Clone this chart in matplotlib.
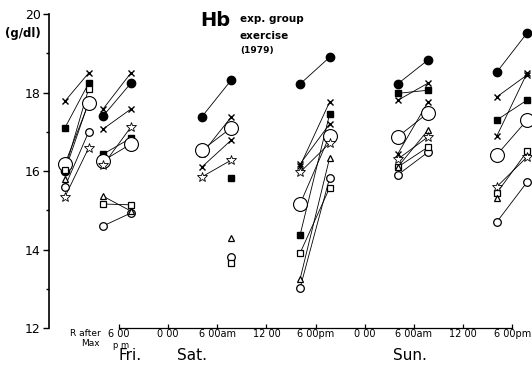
import numpy as np
import matplotlib
matplotlib.use('Agg')
import matplotlib.pyplot as plt

nan = np.nan

# hours after Fri 6 pm for each session (before, after)
t_r = (-6.6, -3.7)
t_fri = (-1.95, 1.45)
t_sat_am = (10.1, 13.7)
t_sat_pm = (22.1, 25.7)
t_sun_am = (34.0, 37.7)
t_sun_pm = (46.1, 49.8)

# subjects: filled circle, cross 1, cross 2, filled square, big open circle,
# small open circle, open square, triangle, star
subjects = ['fc', 'x1', 'x2', 'fs', 'Oc', 'oc', 'os', 'tri', 'star']

r_before = [16.0, 17.78, nan, 17.1, 16.18, 15.6, 16.03, 15.8, 15.34]
r_after = [17.76, 18.5, nan, 18.24, 17.73, 17.0, 18.1, nan, 16.59]

fri_before = [17.4, 17.58, 17.07, 16.43, 16.26, 14.6, 15.16, 15.36, 16.15]
fri_after = [18.24, 18.5, 17.58, 16.84, 16.69, 14.93, 15.14, 14.98, 17.12]

sat_am_before = [17.38, 16.43, 16.1, nan, 16.53, nan, nan, nan, 15.85]
sat_am_after = [18.32, 17.38, 16.79, 15.82, 17.1, 13.81, 13.66, 14.29, 16.28]

sat_pm_before = [18.22, 16.13, 16.18, 14.37, 15.16, 13.02, 13.91, 13.25, 15.97]
sat_pm_after = [18.9, 17.76, 17.2, 17.45, 16.9, 15.82, 15.57, 16.33, 16.71]

sun_am_before = [18.22, 17.8, 16.43, 17.98, 16.87, 15.9, 16.1, 16.1, 16.3]
sun_am_after = [18.83, 18.24, 17.76, 18.06, 17.48, 16.48, 16.61, 17.04, 16.87]

sun_pm_before = [18.52, 17.89, 16.89, 17.3, 16.41, 14.7, 15.44, 15.31, 15.6]
sun_pm_after = [19.52, 18.45, 18.5, 17.81, 17.3, 15.72, 16.5, nan, 16.36]

tick_pos = [0, 6, 12, 18, 24, 30, 36, 42, 48]
tick_labels = ['6 00', '0 00', '6 00am', '12 00', '6 00pm',
               '0 00', '6 00am', '12 00', '6 00pm']

styles = {
    'fc': dict(marker='o', ms=6, mfc='black'),
    'x1': dict(marker='x', ms=4.5, mew=1.0),
    'x2': dict(marker='x', ms=4.5, mew=1.0),
    'fs': dict(marker='s', ms=4.5, mfc='black'),
    'Oc': dict(marker='o', ms=10, mfc='white', mew=0.8),
    'oc': dict(marker='o', ms=5.5, mfc='white', mew=0.9),
    'os': dict(marker='s', ms=5, mfc='white', mew=0.9),
    'tri': dict(marker='^', ms=5, mfc='white', mew=0.9),
    'star': dict(marker='*', ms=7, mfc='white', mew=0.6),
}

sessions = [(t_r, r_before, r_after), (t_fri, fri_before, fri_after),
            (t_sat_am, sat_am_before, sat_am_after),
            (t_sat_pm, sat_pm_before, sat_pm_after),
            (t_sun_am, sun_am_before, sun_am_after),
            (t_sun_pm, sun_pm_before, sun_pm_after)]

W, H = 532, 372
fig = plt.figure(figsize=(W / 100, H / 100), dpi=100)
ax = fig.add_axes([49 / W, 44 / H, 1 - 49 / W, 1 - 44 / H])

for t, before, after in sessions:
    for i, s in enumerate(subjects):
        b, a = before[i], after[i]
        if not np.isnan(b) and not np.isnan(a):
            ax.plot(t, [b, a], color='black', lw=0.6, zorder=1)
    for i, s in enumerate(subjects):
        for tt, v in zip(t, (before[i], after[i])):
            if not np.isnan(v):
                ax.plot(tt, v, ls='none', color='black', mec='black',
                        zorder=3, clip_on=False, **styles[s])

ax.set_xlim(-8.54, 50.4)
ax.set_ylim(12, 20.36)

for sp in ['top', 'right']:
    ax.spines[sp].set_visible(False)
ax.spines['left'].set_bounds(12, 20)
ax.spines['bottom'].set_bounds(0, 48)
ax.spines['left'].set_linewidth(1.2)
ax.spines['bottom'].set_linewidth(0.9)

ax.set_yticks([12, 14, 16, 18, 20])
ax.set_yticks([13, 15, 17, 19], minor=True)
ax.tick_params(axis='y', which='major', direction='out', length=4, width=1,
               labelsize=9, pad=2)
ax.tick_params(axis='y', which='minor', direction='out', length=2.5, width=1)

ax.set_xticks(tick_pos)
ax.set_xticklabels(tick_labels, fontsize=7)
ax.tick_params(axis='x', direction='in', length=3, width=0.9, pad=1)

lab = dict(transform=fig.transFigure, color='black')
fig.text(5 / W, 1 - 34 / H, '(g/dl)', fontsize=8.5, fontweight='bold',
         va='center', ha='left', **lab)
fig.text(200 / W, 1 - 21 / H, 'Hb', fontsize=14, fontweight='bold',
         va='center', ha='left', **lab)
fig.text(240 / W, 1 - 19 / H, 'exp. group', fontsize=7.5, fontweight='bold',
         va='center', ha='left', **lab)
fig.text(240 / W, 1 - 36 / H, 'exercise', fontsize=7.5, fontweight='bold',
         va='center', ha='left', **lab)
fig.text(240 / W, 1 - 50 / H, '(1979)', fontsize=6.5, fontweight='bold',
         va='center', ha='left', **lab)

fig.text(85 / W, 1 - 334 / H, 'R after', fontsize=6.5, ha='center',
         va='center', **lab)
fig.text(90 / W, 1 - 344 / H, 'Max', fontsize=6.5, ha='center',
         va='center', **lab)
fig.text(121 / W, 1 - 345 / H, 'p m', fontsize=6, ha='center',
         va='center', **lab)
fig.text(130 / W, 1 - 356 / H, 'Fri.', fontsize=11, ha='center',
         va='center', **lab)
fig.text(192 / W, 1 - 356 / H, 'Sat.', fontsize=11, ha='center',
         va='center', **lab)
fig.text(410 / W, 1 - 356 / H, 'Sun.', fontsize=11, ha='center',
         va='center', **lab)

fig.savefig('out.png', dpi=100)
